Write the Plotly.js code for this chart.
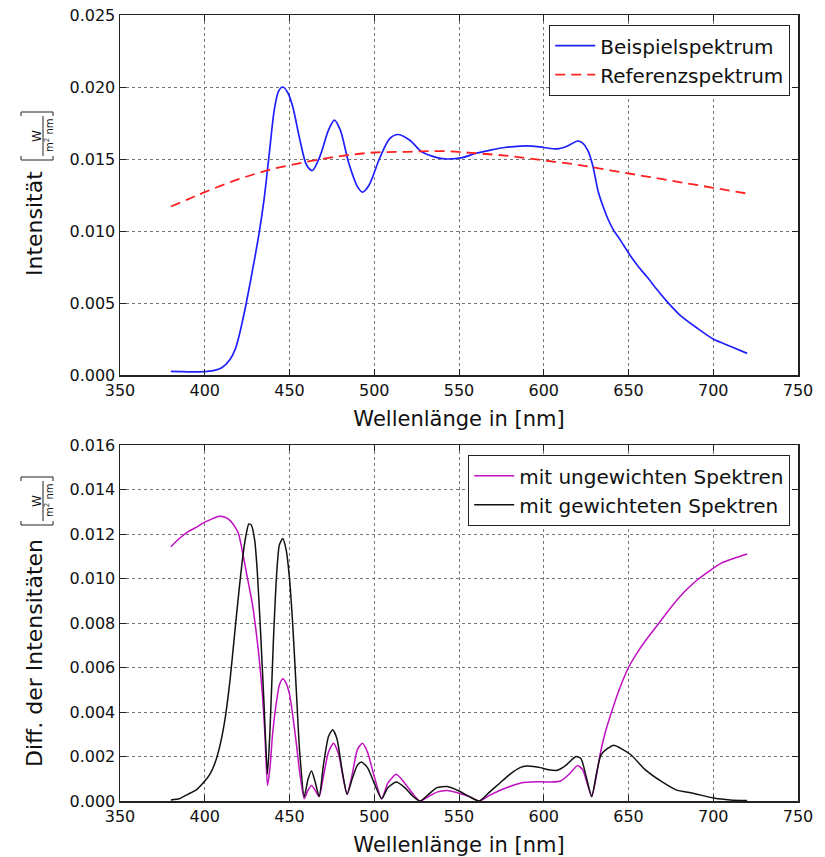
<!DOCTYPE html>
<html>
<head>
<meta charset="utf-8">
<script src="https://cdn.plot.ly/plotly-3.0.1.min.js"></script>
<style>html,body{margin:0;padding:0;background:#fff;}#chart{width:825px;height:857px;}</style>
</head>
<body>
<div id="chart"></div>
<script>
// ---------- DATA ----------
const beispielNm = [380,385,390,395,400,405,410,415,418,420,422,424.5,429,432,435,438,441,443.5,446,449,452,456,460,463.5,468,473,476.5,480,485,490,493,497,503,509,514,521,528,537,543,552,560,568,577,586,593,600,608,614,620,623,626,629,632,635,638,641,645,651,656,661,667,672,680,690,700,710,720];
const beispielVal = [0.00025,0.00024,0.00022,0.00022,0.00023,0.0003,0.0005,0.0011,0.0018,0.0026,0.0036,0.0050,0.0078,0.0098,0.0122,0.0153,0.0184,0.0197,0.0200,0.0196,0.0186,0.0164,0.0146,0.0142,0.0152,0.0170,0.0177,0.0170,0.0147,0.0131,0.0127,0.0132,0.0150,0.0164,0.0167,0.0163,0.0155,0.0151,0.0150,0.0151,0.0154,0.0156,0.0158,0.0159,0.0159,0.0158,0.0157,0.0159,0.01625,0.0161,0.0156,0.0145,0.0128,0.0117,0.0108,0.0101,0.0094,0.0083,0.0075,0.0068,0.0059,0.0052,0.0042,0.0033,0.0025,0.0020,0.0015];

const referenzNm = [380,390,400,420,440,460,480,500,520,540,560,580,600,620,640,660,680,700,720];
const referenzVal = [0.0117,0.0122,0.0127,0.0136,0.0143,0.0148,0.0152,0.01545,0.0155,0.01555,0.0154,0.0152,0.0149,0.0146,0.0142,0.0138,0.0134,0.0130,0.0126];

const ungewNm = [380,385,390,395,400,405,408.5,412,415,418,420,422,424,426,428,430,432,434,435.5,437,438.5,440,442,444,446,448,450,452,454,456,458.7,461,463,465,467.5,470,473,476,479,482,484,487,490,493,496,500,504.4,508,513,518,523,527,532,537,543,550,556,562,568,574,580,586,592,598,604,610,615,620,623,626,628.3,631,633,636,640,645,650,655,660,667,675,683,690,697,705,712,720];
const ungewVal = [0.01143,0.0118,0.0121,0.0123,0.01253,0.0127,0.0128,0.01275,0.0126,0.0123,0.0120,0.0113,0.0105,0.0097,0.0089,0.0078,0.0065,0.0048,0.0030,0.0007,0.0015,0.0030,0.0043,0.0052,0.0055,0.0053,0.0048,0.0038,0.0026,0.0013,0.0001,0.0005,0.0007,0.0005,0.0002,0.0011,0.0022,0.0026,0.0021,0.0009,0.0003,0.0012,0.0023,0.0026,0.0022,0.0011,0.0001,0.0008,0.0012,0.0008,0.0003,0.0000,0.0002,0.0004,0.00047,0.00035,0.0002,0.0000,0.00025,0.00047,0.00065,0.0008,0.00085,0.00086,0.00085,0.0009,0.0012,0.0016,0.0014,0.0007,0.0002,0.0011,0.0020,0.0030,0.0040,0.0051,0.0060,0.00665,0.0072,0.0079,0.0087,0.0094,0.0099,0.0103,0.0107,0.0109,0.0111];

const gewNm = [380,385,390,395,400,403,406,409,412,415,418,420,422,424,426,427.5,429.5,431,433,435,437,438.5,440.5,442.5,444,446,448,450,452,454,456,458.7,461,463,465,467.5,470,473,475.5,478,481,484,487,490,492.5,496,500,504.4,508,513,518,523,527,532,537,543,550,556,562,568,574,580,586,590,594,598,603,608,613,619,622,625,628.3,631,634,641,651,660,669,678,688,701,710,720];
const gewVal = [0.00005,0.0001,0.0003,0.0005,0.0009,0.0012,0.0017,0.0025,0.0037,0.0055,0.0078,0.0093,0.0107,0.0118,0.01245,0.0124,0.0117,0.0103,0.0075,0.0043,0.0012,0.0032,0.0072,0.0103,0.0115,0.0118,0.0113,0.0100,0.0078,0.0050,0.0022,0.0002,0.0010,0.00135,0.0009,0.0002,0.0016,0.0029,0.0032,0.0028,0.0014,0.0003,0.0010,0.0016,0.00175,0.0015,0.0008,0.0001,0.0006,0.00085,0.0006,0.0002,0.0000,0.0003,0.0006,0.00065,0.00045,0.0002,0.0000,0.0004,0.0008,0.0012,0.0015,0.00157,0.00155,0.0015,0.0014,0.00138,0.0016,0.0020,0.0019,0.0011,0.0002,0.0012,0.0021,0.0025,0.0021,0.0014,0.0009,0.0005,0.00035,0.00012,0.00005,0.00002];

const xTickVals = [350,400,450,500,550,600,650,700,750];
const names = ['Beispielspektrum','Referenzspektrum','mit ungewichten Spektren','mit gewichteten Spektren'];

// ---------- LAYOUT HELPERS ----------
const W = 825, H = 857;
const L = 120, R = 798, T = 15, B = 801;
const PX = x => (x - L) / (R - L);
const PY = y => (B - y) / (B - T);
const FONT = '"DejaVu Sans", "Liberation Sans", sans-serif';

const traces = [
  {x: beispielNm, y: beispielVal, name: names[0], mode: 'lines', xaxis: 'x', yaxis: 'y',
   line: {color: '#2020ff', width: 1.7, shape: 'spline', smoothing: 0.8}, legend: 'legend'},
  {x: referenzNm, y: referenzVal, name: names[1], mode: 'lines', xaxis: 'x', yaxis: 'y',
   line: {color: '#ff2020', width: 1.8, dash: '10px,6px', shape: 'spline'}, legend: 'legend'},
  {x: ungewNm, y: ungewVal, name: names[2], mode: 'lines', xaxis: 'x2', yaxis: 'y2',
   line: {color: '#c010c0', width: 1.5, shape: 'spline', smoothing: 0.6}, legend: 'legend2'},
  {x: gewNm, y: gewVal, name: names[3], mode: 'lines', xaxis: 'x2', yaxis: 'y2',
   line: {color: '#111111', width: 1.5, shape: 'spline', smoothing: 0.6}, legend: 'legend2'}
];

const axBase = {
  showline: true, linecolor: '#222', linewidth: 1.5, mirror: 'ticks',
  ticks: 'inside', ticklen: 6, tickcolor: '#222', tickwidth: 1,
  showgrid: true, gridcolor: '#777', griddash: 'dot', gridwidth: 1,
  zeroline: false, tickfont: {family: FONT, size: 16, color: '#111'}
};

const xAx = (anchor) => Object.assign({}, axBase, {
  anchor: anchor, range: [350, 750], tickvals: xTickVals, ticktext: xTickVals.map(String),
  title: {text: 'Wellenlänge in [nm]', font: {family: FONT, size: 21, color: '#111'}, standoff: 12}
});

const legendBase = {xanchor: 'right', yanchor: 'top', bgcolor: '#fff', bordercolor: '#222', borderwidth: 1.2,
  font: {family: FONT, size: 20, color: '#111'}, itemwidth: 40};

const layout = {
  width: W, height: H,
  margin: {l: L, r: W - R, t: T, b: H - B, pad: 0},
  paper_bgcolor: '#fff', plot_bgcolor: '#fff',
  font: {family: FONT, color: '#111'},
  showlegend: true,
  xaxis: xAx('y'),
  xaxis2: xAx('y2'),
  yaxis: Object.assign({}, axBase, {domain: [PY(375), 1], range: [0, 0.025], dtick: 0.005, tick0: 0, tickformat: '.3f', anchor: 'x'}),
  yaxis2: Object.assign({}, axBase, {domain: [0, PY(445)], range: [0, 0.016], dtick: 0.002, tick0: 0, tickformat: '.3f', anchor: 'x2'}),
  legend: Object.assign({}, legendBase, {x: PX(790), y: PY(25)}),
  legend2: Object.assign({}, legendBase, {x: PX(790), y: PY(455)}),
  annotations: [],
  shapes: []
};

// y-axis titles with a fraction [W / m² nm], drawn as rotated text
function yLabel(text, textCy, fracCy) {
  layout.annotations.push({xref: 'paper', yref: 'paper', x: PX(34), y: PY(textCy), xanchor: 'center', yanchor: 'middle',
    text: text, textangle: -90, showarrow: false, font: {family: FONT, size: 22, color: '#111'}});
  layout.annotations.push({xref: 'paper', yref: 'paper', x: PX(37), y: PY(fracCy), xanchor: 'center', yanchor: 'middle',
    text: 'W', textangle: -90, showarrow: false, font: {family: FONT, size: 12, color: '#111'}});
  layout.annotations.push({xref: 'paper', yref: 'paper', x: PX(49), y: PY(fracCy), xanchor: 'center', yanchor: 'middle',
    text: 'm<sup>2</sup> nm', textangle: -90, showarrow: false, font: {family: FONT, size: 10, color: '#111'}});
  const ln = {color: '#222', width: 1};
  layout.shapes.push({type: 'line', xref: 'paper', yref: 'paper', x0: PX(43), x1: PX(43), y0: PY(fracCy - 20), y1: PY(fracCy + 20), line: ln});
  const top = fracCy - 24, bot = fracCy + 24;
  layout.shapes.push({type: 'path', xref: 'paper', yref: 'paper',
    path: `M${PX(21)},${PY(top + 4)} L${PX(21)},${PY(top)} L${PX(53)},${PY(top)} L${PX(53)},${PY(top + 4)}`, line: ln});
  layout.shapes.push({type: 'path', xref: 'paper', yref: 'paper',
    path: `M${PX(21)},${PY(bot - 4)} L${PX(21)},${PY(bot)} L${PX(53)},${PY(bot)} L${PX(53)},${PY(bot - 4)}`, line: ln});
}
yLabel('Intensität', 223, 136);
yLabel('Diff. der Intensitäten', 653, 501);

Plotly.newPlot('chart', traces, layout, {displayModeBar: false, staticPlot: true});
</script>
</body>
</html>
